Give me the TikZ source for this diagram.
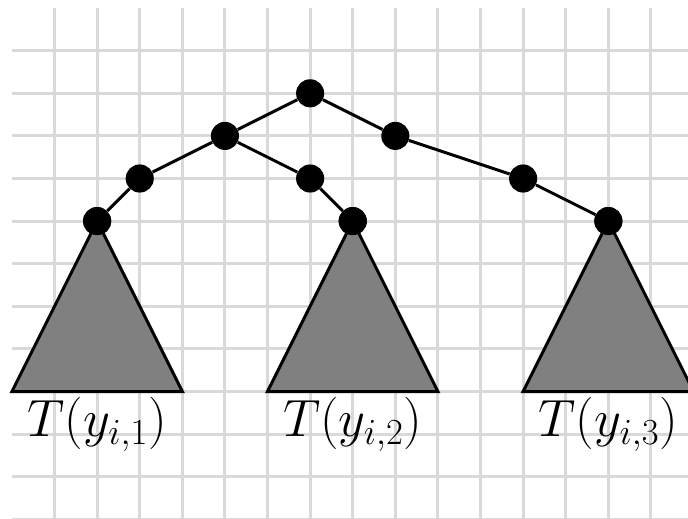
\RequirePackage{fix-cm}
\documentclass[tikz,border=0pt]{standalone}
\usepackage{amsmath,amssymb}
\usepackage{tikz}
\usetikzlibrary{positioning, calc}
\definecolor{gridgray}{RGB}{217, 217, 217}
\definecolor{trifill}{RGB}{128, 128, 128}

\begin{document}
\begin{tikzpicture}[
    dot/.style={circle, fill=black, inner sep=0pt, minimum size=0.66cm},
    edge/.style={line width=2pt, color=black},
    tri/.style={draw=black, fill=trifill, line width=2pt, line join=miter},
    gridline/.style={gridgray, line width=2pt},
    lbl/.style={anchor=base, inner sep=0pt, font=\fontsize{35}{42}\selectfont}
]
\useasboundingbox (-0.28,-2.98) rectangle (15.87,9.19);

% Background grid
\foreach \x in {1,...,16}
  \draw[gridline] (\x,-3) -- (\x,9);
\foreach \y in {-3,...,8}
  \draw[gridline] (0,\y) -- (16,\y);

% Tree nodes
\node[dot] (root) at (7,7) {};
\node[dot] (l)    at (5,6) {};
\node[dot] (r)    at (9,6) {};
\node[dot] (ll)   at (3,5) {};
\node[dot] (lr)   at (7,5) {};
\node[dot] (rr)   at (12,5) {};
\node[dot] (a1)   at (2,4) {};
\node[dot] (a2)   at (8,4) {};
\node[dot] (a3)   at (14,4) {};

% Subtrees
\foreach \n in {a1,a2,a3}
  \draw[tri] (\n.center) -- ++(-2,-4) -- ++(4,0) -- cycle;
\node[dot] at (a1) {};
\node[dot] at (a2) {};
\node[dot] at (a3) {};

% Edges
\draw[edge] (root) -- (l);
\draw[edge] (root) -- (r);
\draw[edge] (l) -- (ll);
\draw[edge] (l) -- (lr);
\draw[edge] (ll) -- (a1);
\draw[edge] (lr) -- (a2);
\draw[edge] (r) -- (rr);
\draw[edge] (rr) -- (a3);

% Labels
\node[lbl] (t1) at (2,-1.05) {$T(y_{i,1})$};
\node[lbl] (t2) at (8,-1.05) {$T(y_{i,2})$};
\node[lbl] (t3) at (14,-1.05) {$T(y_{i,3})$};

\end{tikzpicture}
\end{document}
